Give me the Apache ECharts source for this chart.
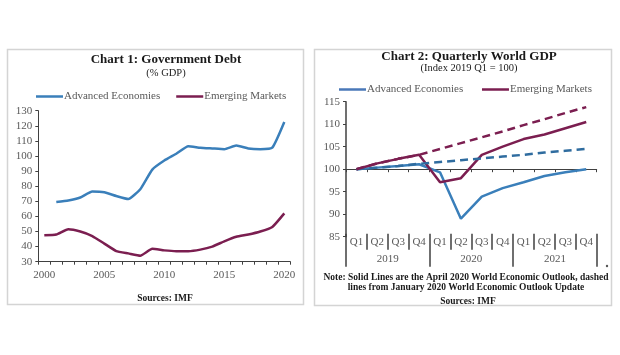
<!DOCTYPE html>
<html>
<head>
<meta charset="utf-8">
<script src="https://cdn.jsdelivr.net/npm/echarts@6/dist/echarts.min.js"></script>
<style>
html,body{margin:0;padding:0;background:#fff;}
#c{width:620px;height:355px;}
</style>
</head>
<body>
<div id="c"></div>
<script>
// ---- Chart 1 data ----
var years = ['2000','2001','2002','2003','2004','2005','2006','2007','2008','2009','2010','2011','2012','2013','2014','2015','2016','2017','2018','2019','2020'];
var debtAdvanced = [null,69.5,70.5,72.5,76.5,76,73.5,71.5,78,91,97,101.5,106.5,105.5,105,104.5,107,105,104.5,105.5,122.5];
var debtEmerging = [47.5,48,51.5,50,47,42,37,35.5,34,38.5,37.5,37,37,38,40,43.5,46.5,48,50,53,62];
var debtTicks = {min:30, max:130, interval:10};

// ---- Chart 2 data ----
var quarters = ['Q1','Q2','Q3','Q4','Q1','Q2','Q3','Q4','Q1','Q2','Q3','Q4'];
var qYears = ['2019','2020','2021'];
var gdpAdvApr = [100,100.35,100.7,101.1,99.3,89.0,93.9,95.8,97.1,98.5,99.3,100.0];
var gdpEmApr = [100,101.3,102.3,103.2,97.1,98.0,103.2,105.0,106.7,107.7,109.1,110.5];
var gdpAdvJan = [100,100.35,100.7,101.2,101.6,102.0,102.4,102.8,103.2,103.7,104.1,104.5];
var gdpEmJan = [100,101.3,102.3,103.2,104.5,105.8,107.1,108.4,109.8,111.1,112.5,113.8];
var gdpTicks = {min:85, max:115, interval:5};

var BLUE = '#3a7fba', PURPLE = '#7b1e50', BLUE_D = '#2f6c9f', AX = '#404040', LBL = '#595959';
var SERIF = '"Liberation Serif","Times New Roman",serif';

var chart = echarts.init(document.getElementById('c'), null, {renderer:'canvas'});

var lblStyle = {color: LBL, fontFamily: SERIF, fontSize: 11};

var option = {
  animation: false,
  backgroundColor: '#ffffff',
  graphic: [
    {type:'rect', shape:{x:7.5,y:49.5,width:296,height:255}, style:{fill:'none', stroke:'#d4d4d4', lineWidth:1.5}, z:-1},
    {type:'rect', shape:{x:314.5,y:49.5,width:297,height:256}, style:{fill:'none', stroke:'#d4d4d4', lineWidth:1.5}, z:-1},
    {type:'circle', shape:{cx:607, cy:266, r:1.2}, style:{fill:'#555'}}
  ],
  title: [
    {text:'Chart 1: Government Debt', left:161, top:48.5, textAlign:'center',
     textStyle:{fontFamily:SERIF, fontSize:13, fontWeight:'bold', color:'#1a1a1a'}},
    {text:'(% GDP)', left:161, top:62.5, textAlign:'center',
     textStyle:{fontFamily:SERIF, fontSize:10.5, fontWeight:'normal', color:'#1a1a1a'}},
    {text:'Sources: IMF', left:160, top:288.5, textAlign:'center',
     textStyle:{fontFamily:SERIF, fontSize:9.5, fontWeight:'bold', color:'#1a1a1a'}},
    {text:'Chart 2: Quarterly World GDP', left:464, top:45, textAlign:'center',
     textStyle:{fontFamily:SERIF, fontSize:13, fontWeight:'bold', color:'#1a1a1a'}},
    {text:'(Index 2019 Q1 = 100)', left:464, top:57.5, textAlign:'center',
     textStyle:{fontFamily:SERIF, fontSize:10.5, fontWeight:'normal', color:'#1a1a1a'}},
    {text:'Note: Solid Lines are the April 2020 World Economic Outlook, dashed\nlines from January 2020 World Economic Outlook Update', left:461, top:268, textAlign:'center',
     textStyle:{fontFamily:SERIF, fontSize:9.5, fontWeight:'bold', color:'#1a1a1a', lineHeight:10, align:'center'}},
    {text:'Sources: IMF', left:463, top:292, textAlign:'center',
     textStyle:{fontFamily:SERIF, fontSize:9.5, fontWeight:'bold', color:'#1a1a1a'}}
  ],
  legend: [
    {left:31, top:86, itemWidth:27, itemHeight:2.5, itemGap:16, icon:'rect',
     data:['Advanced Economies','Emerging Markets'],
     textStyle:{fontFamily:SERIF, fontSize:11, color:LBL, padding:[0,0,0,-4]}},
    {left:334, top:79, itemWidth:27, itemHeight:2.5, itemGap:16, icon:'rect',
     data:[{name:'Advanced Economies ', itemStyle:{color:'#4a78b8'}},{name:'Emerging Markets ', itemStyle:{color:PURPLE}}],
     textStyle:{fontFamily:SERIF, fontSize:11, color:LBL, padding:[0,0,0,-4]}}
  ],
  grid: [
    {left:38.3, top:110.7, width:252, height:151},
    {left:346, top:101.7, width:250.7, height:135}
  ],
  xAxis: [
    {type:'category', gridIndex:0, data:years, boundaryGap:true,
     axisLine:{show:true, lineStyle:{color:AX, width:1}},
     axisTick:{show:true, interval:0, length:3, lineStyle:{color:AX, width:1}},
     axisLabel:Object.assign({interval:4, margin:8}, lblStyle)},
    // chart 2 quarter labels with separators
    {type:'category', gridIndex:1, data:quarters, boundaryGap:true, position:'bottom', offset:-3,
     axisLine:{show:false},
     axisTick:{show:true, interval:0, length:16, lineStyle:{color:AX, width:1.5}},
     axisLabel:Object.assign({interval:0, margin:3}, lblStyle)},
    // chart 2 year labels with long separators
    {type:'category', gridIndex:1, data:qYears, boundaryGap:true, position:'bottom', offset:-3,
     axisLine:{show:false},
     axisTick:{show:true, interval:0, length:33, lineStyle:{color:AX, width:1.5}},
     axisLabel:Object.assign({interval:0, margin:20}, lblStyle)},
    // chart 2 axis line crossing at 100
    {type:'category', gridIndex:1, data:quarters, boundaryGap:true, position:'bottom', offset:-67.5,
     axisLine:{show:true, lineStyle:{color:AX, width:1}},
     axisTick:{show:true, interval:0, length:3, lineStyle:{color:AX, width:1}},
     axisLabel:{show:false}}
  ],
  yAxis: [
    {type:'value', gridIndex:0, min:debtTicks.min, max:debtTicks.max, interval:debtTicks.interval,
     axisLine:{show:true, lineStyle:{color:AX, width:1}},
     axisTick:{show:true, length:3, lineStyle:{color:AX, width:1}},
     splitLine:{show:false},
     axisLabel:Object.assign({margin:6}, lblStyle)},
    {type:'value', gridIndex:1, min:gdpTicks.min, max:gdpTicks.max, interval:gdpTicks.interval,
     axisLine:{show:true, lineStyle:{color:AX, width:1.5}},
     axisTick:{show:true, length:3, lineStyle:{color:AX, width:1}},
     splitLine:{show:false},
     axisLabel:Object.assign({margin:6}, lblStyle)}
  ],
  series: [
    {name:'Advanced Economies', type:'line', xAxisIndex:0, yAxisIndex:0, data:debtAdvanced,
     showSymbol:false, symbol:'none', smooth:0.15, color:BLUE, lineStyle:{width:2.5, color:BLUE}},
    {name:'Emerging Markets', type:'line', xAxisIndex:0, yAxisIndex:0, data:debtEmerging,
     showSymbol:false, symbol:'none', smooth:0.15, color:PURPLE, lineStyle:{width:2.5, color:PURPLE}},
    {name:'Advanced Economies ', type:'line', xAxisIndex:1, yAxisIndex:1, data:gdpAdvApr,
     showSymbol:false, symbol:'none', color:BLUE, lineStyle:{width:2.5, color:BLUE}},
    {name:'Emerging Markets ', type:'line', xAxisIndex:1, yAxisIndex:1, data:gdpEmApr,
     showSymbol:false, symbol:'none', color:PURPLE, lineStyle:{width:2.5, color:PURPLE}},
    {name:'Advanced Jan', type:'line', xAxisIndex:1, yAxisIndex:1, data:gdpAdvJan,
     showSymbol:false, symbol:'none', color:BLUE_D, lineStyle:{width:2.5, color:BLUE_D, type:[8,5]}},
    {name:'Emerging Jan', type:'line', xAxisIndex:1, yAxisIndex:1, data:gdpEmJan,
     showSymbol:false, symbol:'none', color:PURPLE, lineStyle:{width:2.5, color:PURPLE, type:[8,5]}}
  ]
};
chart.setOption(option);
</script>
</body>
</html>
